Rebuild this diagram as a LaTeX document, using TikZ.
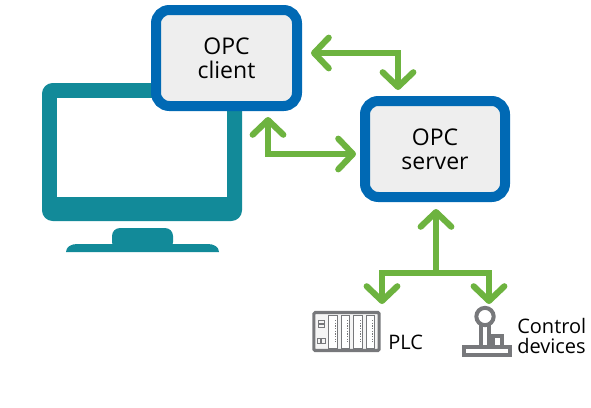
\documentclass[tikz,border=0pt]{standalone}
\usepackage{fontspec}
\setmainfont{Open Sans}
\usetikzlibrary{arrows.meta}
\definecolor{teal1}{HTML}{128A99}
\definecolor{blue1}{HTML}{0069B4}
\definecolor{green1}{HTML}{6DB33F}
\definecolor{gray1}{HTML}{EEEEEE}
\definecolor{gray2}{HTML}{77787B}
\tikzset{
  opcbox/.style={draw=blue1,fill=gray1,line width=7.5pt,rounded corners=10pt,align=center,
    font=\fontsize{17.25}{18}\selectfont},
  link/.style={draw=green1,line width=4.6pt,{Straight Barb[length=11pt,width=23pt,round]}-{Straight Barb[length=11pt,width=23pt,round]}},
  drop/.style={draw=green1,line width=4.6pt,-{Straight Barb[length=11pt,width=23pt,round]}},
  lbl/.style={font=\fontsize{15}{17}\selectfont,inner sep=0pt,align=left},
}
\begin{document}
\begin{tikzpicture}[x=0.75pt,y=-0.75pt]
\useasboundingbox (0,0) rectangle (591,407);
% monitor
\fill[teal1,rounded corners=8pt] (42,83) rectangle (242,221);
\fill[white] (57,98) rectangle (227,197);
\fill[teal1,rounded corners=6pt] (112,250) -- (112,228) -- (173,228) -- (173,250) -- cycle;
\fill[teal1] (66,252) .. controls (66,247) and (71,244) .. (77,244) -- (208,244) .. controls (214,244) and (219,247) .. (219,252) -- cycle;
% boxes
\node[opcbox,minimum width=105.75pt,minimum height=72pt] (client) at (226.5,58) {OPC\\client};
\node[opcbox,minimum width=105pt,minimum height=72pt] (server) at (435,149) {OPC\\server};
% arrow ends
\coordinate (c1) at (311,53);
\coordinate (s1) at (398,90);
\coordinate (c2) at (268,117);
\coordinate (s2) at (356,154);
\coordinate (s3) at (436,209);
\coordinate (j) at (436,273);
\coordinate (p1) at (382,304);
\coordinate (d1) at (489,304);
\draw[link] (c1) -| (s1);
\draw[link] (c2) |- (s2);
\draw[drop] (j) -- (s3);
\draw[drop] (j) -| (p1);
\draw[drop] (j) -| (d1);
% plc
\node[draw=gray2,fill=gray1!60,line width=2.3pt,rounded corners=1pt,minimum width=49pt,minimum height=28.5pt,inner sep=0pt] (plc) at (346.5,331.5) {};
\foreach \xa/\xb in {328/337,341/349,353/362,366/374}{
  \draw[gray2,fill=white,line width=.6pt] (\xa,315) rectangle (\xb,348);
  \draw[gray2,line width=1pt,dash pattern=on 1pt off 1pt] (\xb-1.5,320) -- (\xb-1.5,342);
}
\foreach \ya/\yb in {320/323,324/327}{
  \draw[gray2,line width=.4pt] (318,\ya) rectangle (324,\yb);
}
\foreach \xa/\xb in {317/320,321/325}{
  \draw[gray2,line width=.4pt] (\xa,338) rectangle (\xb,343);
}
\node[lbl,anchor=base west] (plclbl) at (388,349) {PLC};
% joystick
\node[draw=gray2,fill=white,line width=2.8pt,minimum width=35pt,minimum height=6.5pt,inner sep=0pt] (base) at (487,351) {};
\draw[gray2,line width=2.8pt] (481,345) -- (481,325) (489,325) -- (489,345);
\draw[gray2,line width=2.6pt] (493,345) |- (502,336) -- (502,345);
\node[draw=gray2,fill=white,circle,line width=3pt,minimum size=13pt,inner sep=0pt] (ball) at (485,316.5) {};
\node[lbl,anchor=base west] (ctllbl) at (517,333) {Control};
\node[lbl,anchor=base west] (devlbl) at (517,353) {devices};
\end{tikzpicture}
\end{document}
